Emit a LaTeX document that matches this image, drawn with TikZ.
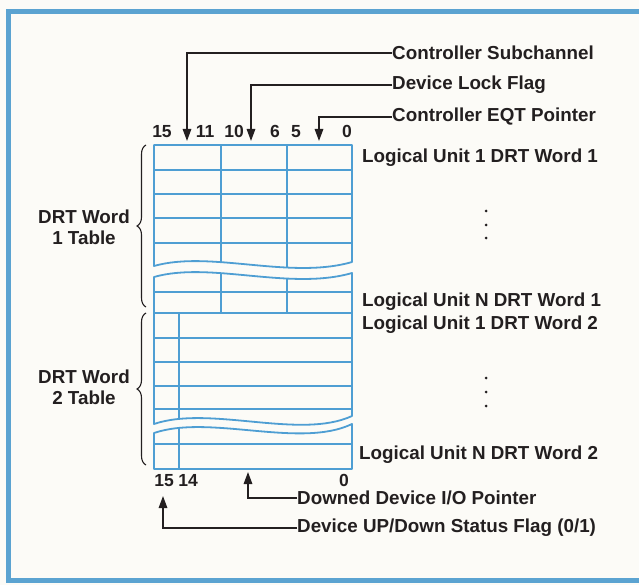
\documentclass[tikz,border=0pt]{standalone}
\usepackage{fontspec}
\setmainfont{Liberation Sans}
\usetikzlibrary{arrows.meta,positioning,calc,decorations.pathreplacing}
\definecolor{Ink}{HTML}{231F20}
\definecolor{Grid}{HTML}{4E9ED3}
\definecolor{Frame}{HTML}{5BA3D1}
\definecolor{Paper}{HTML}{FCFBF7}

\begin{document}
\begin{tikzpicture}[x=1pt,y=-1pt,
  lbl/.style={font=\fontsize{18.8}{21}\selectfont\bfseries,text=Ink,inner sep=0pt},
  bit/.style={lbl,font=\fontsize{17.5}{21}\selectfont\bfseries,anchor=base},
  grid/.style={Grid,line width=1.8pt,line join=round},
  lead/.style={Ink,line width=1.4pt,-{Triangle[length=12pt,width=8.5pt]}},
  curly/.style={Ink,line width=1.1pt,decorate,decoration={brace,amplitude=9pt}}]
\useasboundingbox (0,0) rectangle (639,585);
\fill[Paper] (0,0) rectangle (639,585);
\draw[Frame,line width=5pt] (660,12) -- (8,12) -- (8,580) -- (660,580);
\begin{scope}
\clip (154,145) -- (352,145) -- (352,262) .. controls (290,280) and (210,250) .. (154,266) -- cycle;
\foreach \y in {170,194,218,243} \draw[grid] (154,\y) -- (352,\y);
\foreach \x in {221,287} \draw[grid] (\x,145) -- (\x,290);
\end{scope}
\draw[grid] (154,145) -- (352,145) -- (352,262) .. controls (290,280) and (210,250) .. (154,266) -- cycle;
\begin{scope}
\clip (154,277) .. controls (210,261) and (290,291) .. (352,273) -- (352,313) -- (154,313) -- cycle;
\draw[grid] (154,292) -- (352,292);
\foreach \x in {221,287} \draw[grid] (\x,255) -- (\x,313);
\end{scope}
\draw[grid] (154,277) .. controls (210,261) and (290,291) .. (352,273) -- (352,313) -- (154,313) -- cycle;
\begin{scope}
\clip (154,313) -- (352,313) -- (352,416) .. controls (300,440) and (210,405) .. (154,424) -- cycle;
\foreach \y in {338,362,386,409} \draw[grid] (154,\y) -- (352,\y);
\draw[grid] (179,313) -- (179,440);
\end{scope}
\draw[grid] (154,313) -- (352,313) -- (352,416) .. controls (300,440) and (210,405) .. (154,424) -- cycle;
\begin{scope}
\clip (154,433) .. controls (210,414) and (300,449) .. (352,424) -- (352,469) -- (154,469) -- cycle;
\draw[grid] (154,444) -- (352,444);
\draw[grid] (179,410) -- (179,469);
\end{scope}
\draw[grid] (154,433) .. controls (210,414) and (300,449) .. (352,424) -- (352,469) -- (154,469) -- cycle;
\foreach \x/\s in {162/15,205/11,234/10,275/6,296/5,347/0} \node[bit] at (\x,138) {\s};
\foreach \x/\s in {164/15,188/14,344/0} \node[bit] at (\x,486) {\s};
\node[lbl,anchor=west] (csub) at (392,53) {Controller Subchannel};
\node[lbl,anchor=west] (lock) at (392,85) {Device Lock Flag};
\node[lbl,anchor=west] (eqt) at (392,117) {Controller EQT Pointer};
\coordinate (csubtip) at (187,141);
\coordinate (locktip) at (251,141);
\coordinate (eqttip) at (319,141);
\draw[lead] (csub.west) -| (csubtip);
\draw[lead] (lock.west) -| (locktip);
\draw[lead] (eqt.west) -| (eqttip);
\node[lbl,anchor=west] (lu1a) at (362,158) {Logical Unit 1 DRT Word 1};
\node[lbl,anchor=west] (luna) at (362,302) {Logical Unit N DRT Word 1};
\node[lbl,anchor=west] (lu1b) at (362,325) {Logical Unit 1 DRT Word 2};
\node[lbl,anchor=west] (lunb) at (359,455) {Logical Unit N DRT Word 2};
\foreach \y in {211,225,238,378,392,406} \fill[Ink] (486,\y) circle (1.5);
\node[lbl,anchor=west] (downed) at (297,498) {Downed Device I/O Pointer};
\node[lbl,anchor=west] (status) at (297,528) {Device UP/Down Status Flag (0/1)};
\coordinate (downedtip) at (248,472);
\coordinate (statustip) at (163,496);
\draw[lead] (downed.west) -| (downedtip);
\draw[lead] (status.west) -| (statustip);
\draw[curly] (146,307) -- (146,145);
\draw[curly] (146,465) -- (146,313);
\node[lbl,align=center] (tab1) at (84,227) {DRT Word\\1 Table};
\node[lbl,align=center] (tab2) at (84,387) {DRT Word\\2 Table};
\end{tikzpicture}
\end{document}
